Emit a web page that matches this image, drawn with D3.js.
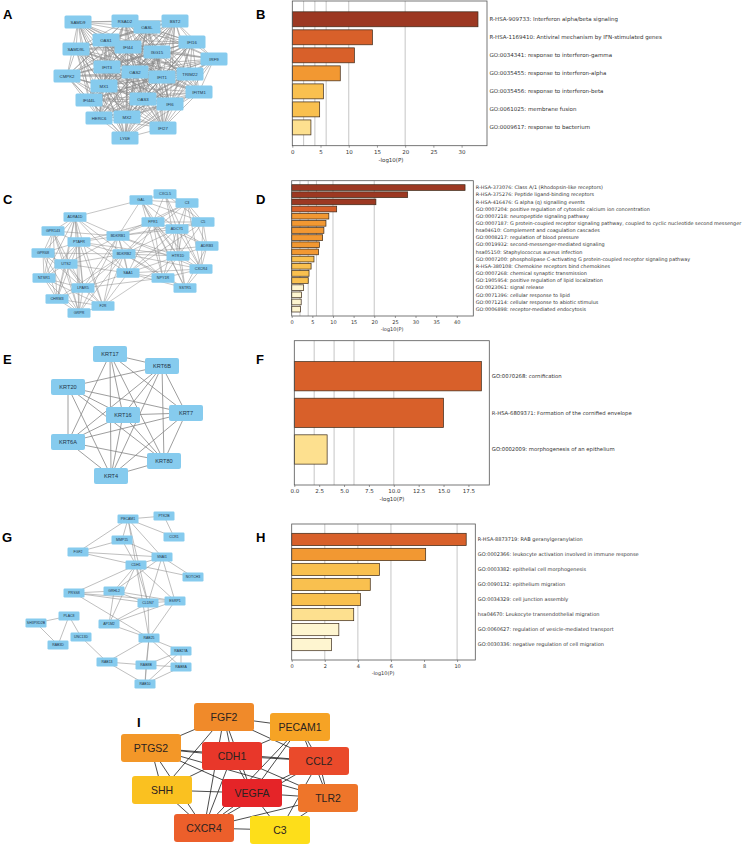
<!DOCTYPE html>
<html>
<head>
<meta charset="utf-8">
<script src="https://cdn.jsdelivr.net/npm/d3@7"></script>
<style>
  body { margin: 0; background: #fff; }
  svg { display: block; }
</style>
</head>
<body>
<div class="chart"></div>
<script>
'use strict';

// ---- enrichment bar graphs: terms and -log10(P) ----
const termsB = [
  "R-HSA-909733: Interferon alpha/beta signaling",
  "R-HSA-1169410: Antiviral mechanism by IFN-stimulated genes",
  "GO:0034341: response to interferon-gamma",
  "GO:0035455: response to interferon-alpha",
  "GO:0035456: response to interferon-beta",
  "GO:0061025: membrane fusion",
  "GO:0009617: response to bacterium"
];
const logPB = [32.9, 14.2, 11.0, 8.5, 5.5, 4.85, 3.3];
const ticksB = [0, 5, 10, 15, 20, 25, 30];

const termsD = [
  "R-HSA-373076: Class A/1 (Rhodopsin-like receptors)",
  "R-HSA-375276: Peptide ligand-binding receptors",
  "R-HSA-416476: G alpha (q) signalling events",
  "GO:0007204: positive regulation of cytosolic calcium ion concentration",
  "GO:0007218: neuropeptide signaling pathway",
  "GO:0007187: G protein-coupled receptor signaling pathway, coupled to cyclic nucleotide second messenger",
  "hsa04610: Complement and coagulation cascades",
  "GO:0008217: regulation of blood pressure",
  "GO:0019932: second-messenger-mediated signaling",
  "hsa05150: Staphylococcus aureus infection",
  "GO:0007200: phospholipase C-activating G protein-coupled receptor signaling pathway",
  "R-HSA-380108: Chemokine receptors bind chemokines",
  "GO:0007268: chemical synaptic transmission",
  "GO:1905954: positive regulation of lipid localization",
  "GO:0023061: signal release",
  "GO:0071396: cellular response to lipid",
  "GO:0071214: cellular response to abiotic stimulus",
  "GO:0006898: receptor-mediated endocytosis"
];
const logPD = [42.0, 28.1, 20.4, 10.9, 9.0, 8.3, 7.8, 7.5, 6.7, 6.5, 5.4, 4.7, 4.2, 4.0, 2.9, 2.4, 2.3, 2.1];
const ticksD = [0, 5, 10, 15, 20, 25, 30, 35, 40];

const termsF = [
  "GO:0070268: cornification",
  "R-HSA-6809371: Formation of the cornified envelope",
  "GO:0002009: morphogenesis of an epithelium"
];
const logPF = [18.8, 15.0, 3.3];
const ticksF = [0, 2.5, 5, 7.5, 10, 12.5, 15, 17.5];

const termsH = [
  "R-HSA-8873719: RAB geranylgeranylation",
  "GO:0002366: leukocyte activation involved in immune response",
  "GO:0003382: epithelial cell morphogenesis",
  "GO:0090132: epithelium migration",
  "GO:0034329: cell junction assembly",
  "hsa04670: Leukocyte transendothelial migration",
  "GO:0060627: regulation of vesicle-mediated transport",
  "GO:0030336: negative regulation of cell migration"
];
const logPH = [10.55, 8.1, 5.3, 4.75, 4.15, 3.75, 2.85, 2.4];
const ticksH = [0, 2, 4, 6, 8, 10];

// -log10(P) cut-offs for the colour bins and the grey reference lines
const pBins = [3, 4, 6, 10, 20];
const refLines = [2, 4, 6, 10, 20];

// ---- PPI networks: node name + layout coordinates ----
const nodesA = [
  ["SAMD9", 78, 22], ["RSAD2", 125, 21], ["BST2", 175, 21], ["OASL", 147, 27],
  ["OAS1", 106, 40], ["IFI44", 128, 47], ["ISG15", 157, 52], ["IFI16", 192, 42],
  ["SAMD9L", 76, 49], ["IRF9", 214, 59], ["IFIT3", 107, 67], ["OAS2", 135, 72],
  ["IFIT1", 162, 77], ["TRIM22", 190, 74], ["CMPK2", 67, 76], ["MX1", 104, 86],
  ["IFITM1", 199, 92], ["IFI44L", 89, 100], ["OAS3", 143, 99], ["IFI6", 170, 104],
  ["HERC6", 99, 118], ["MX2", 127, 117], ["IFI27", 163, 128], ["LY6E", 125, 138]
];
// module A is almost fully connected: pairs without an edge
const missingA = ["SAMD9-IRF9", "BST2-LY6E", "CMPK2-IRF9", "SAMD9-IFI27", "LY6E-IRF9",
  "SAMD9L-IRF9", "HERC6-IRF9", "RSAD2-LY6E", "SAMD9-IFITM1", "CMPK2-IFITM1"];

const nodesC = [
  ["GAL", 141, 200], ["CXCL5", 165, 194], ["C3", 187, 203], ["ADRA1D", 75, 217],
  ["FPR1", 153, 222], ["ADCY1", 177, 229], ["C5", 203, 222], ["GPR143", 53, 231],
  ["BDKRB1", 118, 236], ["PTAFR", 79, 242], ["ADRB3", 207, 246], ["GPR68", 43, 253],
  ["BDKRB2", 124, 254], ["HTR1D", 178, 256], ["UTS2", 66, 264], ["CXCR4", 201, 269],
  ["SAA1", 128, 273], ["NTSR1", 44, 278], ["NPY1R", 163, 278], ["SSTR5", 185, 288],
  ["LPAR5", 83, 288], ["CHRM3", 57, 299], ["F2R", 103, 306], ["GRPR", 79, 313]
];
const edgesC = (
  "ADRA1D-GPR143 ADRA1D-PTAFR ADRA1D-GPR68 ADRA1D-UTS2 ADRA1D-NTSR1 ADRA1D-LPAR5 ADRA1D-CHRM3 " +
  "ADRA1D-GRPR ADRA1D-F2R ADRA1D-BDKRB1 ADRA1D-BDKRB2 ADRA1D-GAL ADRA1D-SAA1 " +
  "GPR143-PTAFR GPR143-GPR68 GPR143-UTS2 GPR143-NTSR1 GPR143-LPAR5 GPR143-CHRM3 GPR143-GRPR GPR143-BDKRB1 " +
  "PTAFR-GPR68 PTAFR-UTS2 PTAFR-NTSR1 PTAFR-LPAR5 PTAFR-CHRM3 PTAFR-GRPR PTAFR-F2R PTAFR-BDKRB1 " +
  "PTAFR-BDKRB2 PTAFR-SAA1 PTAFR-FPR1 PTAFR-HTR1D " +
  "GPR68-UTS2 GPR68-NTSR1 GPR68-LPAR5 GPR68-CHRM3 GPR68-GRPR GPR68-BDKRB2 " +
  "UTS2-NTSR1 UTS2-LPAR5 UTS2-CHRM3 UTS2-GRPR UTS2-F2R UTS2-BDKRB1 UTS2-BDKRB2 UTS2-SAA1 " +
  "NTSR1-LPAR5 NTSR1-CHRM3 NTSR1-GRPR NTSR1-F2R " +
  "LPAR5-CHRM3 LPAR5-GRPR LPAR5-F2R LPAR5-BDKRB1 LPAR5-BDKRB2 LPAR5-SAA1 LPAR5-NPY1R " +
  "CHRM3-GRPR CHRM3-F2R CHRM3-BDKRB2 GRPR-F2R GRPR-BDKRB1 GRPR-BDKRB2 " +
  "F2R-BDKRB1 F2R-BDKRB2 F2R-SAA1 F2R-HTR1D " +
  "BDKRB1-BDKRB2 BDKRB1-SAA1 BDKRB1-GAL BDKRB1-FPR1 BDKRB1-ADCY1 BDKRB1-C5 BDKRB1-HTR1D BDKRB1-CXCR4 " +
  "BDKRB1-C3 BDKRB1-NPY1R " +
  "BDKRB2-SAA1 BDKRB2-FPR1 BDKRB2-ADCY1 BDKRB2-HTR1D BDKRB2-ADRB3 BDKRB2-CXCR4 BDKRB2-NPY1R " +
  "BDKRB2-SSTR5 BDKRB2-C3 " +
  "SAA1-FPR1 SAA1-ADCY1 SAA1-HTR1D SAA1-NPY1R SAA1-SSTR5 SAA1-CXCR4 SAA1-C5 " +
  "GAL-CXCL5 GAL-C3 GAL-FPR1 GAL-ADCY1 GAL-HTR1D GAL-NPY1R GAL-SSTR5 GAL-C5 " +
  "CXCL5-C3 CXCL5-FPR1 CXCL5-ADCY1 CXCL5-C5 CXCL5-CXCR4 CXCL5-HTR1D " +
  "C3-FPR1 C3-ADCY1 C3-C5 C3-ADRB3 C3-CXCR4 C3-HTR1D " +
  "FPR1-ADCY1 FPR1-C5 FPR1-HTR1D FPR1-CXCR4 FPR1-NPY1R FPR1-SSTR5 FPR1-ADRB3 " +
  "ADCY1-C5 ADCY1-ADRB3 ADCY1-HTR1D ADCY1-CXCR4 ADCY1-NPY1R ADCY1-SSTR5 " +
  "C5-ADRB3 C5-HTR1D C5-CXCR4 ADRB3-HTR1D ADRB3-CXCR4 ADRB3-SSTR5 " +
  "HTR1D-CXCR4 HTR1D-NPY1R HTR1D-SSTR5 CXCR4-NPY1R CXCR4-SSTR5 NPY1R-SSTR5"
).split(" ");

const nodesE = [
  ["KRT17", 110, 354], ["KRT6B", 162, 366], ["KRT20", 68, 387], ["KRT7", 186, 413],
  ["KRT16", 123, 415], ["KRT6A", 68, 442], ["KRT80", 164, 461], ["KRT4", 111, 476]
];
const missingE = ["KRT17-KRT20"];

const nodesG = [
  ["PECAM1", 128, 519], ["PTK2B", 164, 516], ["CCR1", 174, 537], ["MMP15", 122, 540],
  ["FGF2", 78, 552], ["SNAI1", 162, 557], ["CDH1", 136, 565], ["NOTCH3", 193, 577],
  ["PRSS8", 74, 593], ["GRHL2", 114, 591], ["CLDN7", 148, 603], ["ESRP1", 175, 601],
  ["PLAC8", 69, 616], ["SH3PXD2B", 36, 623], ["AP1M2", 109, 624], ["UNC13D", 81, 637],
  ["RAB25", 149, 638], ["RAB3D", 58, 645], ["RAB27A", 181, 651], ["RAB13", 107, 662],
  ["RAB8B", 146, 665], ["RAB8A", 181, 667], ["RAB10", 145, 684]
];
const edgesG = (
  "PECAM1-PTK2B PECAM1-CCR1 PTK2B-CCR1 PECAM1-MMP15 PECAM1-FGF2 PECAM1-SNAI1 PECAM1-CDH1 PECAM1-CLDN7 " +
  "FGF2-MMP15 FGF2-CDH1 FGF2-SNAI1 MMP15-SNAI1 MMP15-CDH1 SNAI1-CDH1 SNAI1-NOTCH3 CDH1-NOTCH3 " +
  "SNAI1-CLDN7 SNAI1-ESRP1 SNAI1-GRHL2 CDH1-PRSS8 CDH1-GRHL2 CDH1-CLDN7 CDH1-ESRP1 CDH1-AP1M2 CDH1-RAB25 " +
  "PRSS8-GRHL2 PRSS8-CLDN7 PRSS8-ESRP1 PRSS8-RAB25 GRHL2-CLDN7 GRHL2-ESRP1 GRHL2-AP1M2 " +
  "CLDN7-ESRP1 CLDN7-AP1M2 CLDN7-RAB25 ESRP1-AP1M2 ESRP1-RAB25 AP1M2-RAB25 " +
  "PLAC8-SH3PXD2B PLAC8-UNC13D PLAC8-RAB3D SH3PXD2B-RAB3D UNC13D-RAB13 " +
  "RAB25-RAB27A RAB25-RAB13 RAB25-RAB8B RAB25-RAB8A RAB25-RAB10 RAB27A-RAB8B RAB27A-RAB8A RAB27A-RAB10 " +
  "RAB13-RAB8B RAB13-RAB10 RAB8B-RAB8A RAB8B-RAB10 RAB8A-RAB10"
).split(" ");

// hub genes with their rank (1 = highest score)
const nodesI = [
  ["FGF2", 224, 717], ["PECAM1", 300, 727], ["PTGS2", 151, 748], ["CDH1", 232, 756],
  ["CCL2", 319, 761], ["SHH", 162, 790], ["VEGFA", 252, 793], ["TLR2", 328, 798],
  ["CXCR4", 204, 828], ["C3", 280, 830]
];
const rankI = {VEGFA: 1, CDH1: 2, CCL2: 3, CXCR4: 4, TLR2: 5, FGF2: 6, PTGS2: 7, PECAM1: 8, SHH: 9, C3: 10};
const edgesI = (
  "FGF2-PECAM1 FGF2-PTGS2 FGF2-CDH1 FGF2-VEGFA FGF2-SHH FGF2-CXCR4 FGF2-CCL2 " +
  "PECAM1-CDH1 PECAM1-VEGFA PECAM1-CCL2 PECAM1-TLR2 PECAM1-CXCR4 " +
  "PTGS2-CDH1 PTGS2-CCL2 PTGS2-VEGFA PTGS2-TLR2 PTGS2-SHH PTGS2-CXCR4 " +
  "CDH1-CCL2 CDH1-VEGFA CDH1-SHH CDH1-CXCR4 CDH1-TLR2 CCL2-VEGFA CCL2-TLR2 CCL2-CXCR4 CCL2-C3 " +
  "SHH-VEGFA SHH-CXCR4 VEGFA-TLR2 VEGFA-CXCR4 VEGFA-C3 TLR2-CXCR4 TLR2-C3 CXCR4-C3"
).split(" ");

const panelLetters = [["A", 3, 19], ["B", 256, 19], ["C", 3, 204], ["D", 256, 204],
  ["E", 3, 364], ["F", 256, 364], ["G", 2, 542], ["H", 256, 542], ["I", 137, 727]];

document.addEventListener('DOMContentLoaded', () => {

  const W = 753, H = 852;
  const svg = d3.select(".chart")
    .append("svg")
    .attr("width", W)
    .attr("height", H)
    .style("font-family", "'Liberation Sans', Arial, sans-serif");

  // Metascape-style colour bins
  const binColor = d3.scaleThreshold()
    .domain(pBins)
    .range(["#fef5d0", "#fde08f", "#f9c04f", "#f29832", "#d8602a", "#9c3822"]);

  // every pair of nodes except the listed ones
  function allPairs(nodes, missing) {
    const skip = new Set(missing);
    const out = [];
    nodes.forEach((a, i) => nodes.slice(i + 1).forEach(b => {
      const k1 = a[0] + "-" + b[0], k2 = b[0] + "-" + a[0];
      if (!skip.has(k1) && !skip.has(k2)) out.push(k1);
    }));
    return out;
  }

  function barPanel(c) {
    const g = svg.append("g").style("font-family", "'DejaVu Sans', sans-serif");
    const x = d3.scaleLinear().domain([0, c.xMax]).range([c.x0, c.x1]);
    const y = d3.scaleBand().domain(c.terms).range([c.y0, c.y1])
      .paddingInner(c.pi).paddingOuter(c.po);

    // reference lines
    g.selectAll(".ref")
      .data(refLines.filter(v => v < c.xMax))
      .enter()
      .append("line")
      .attr("x1", d => x(d)).attr("x2", d => x(d))
      .attr("y1", c.y0).attr("y2", c.y1)
      .style("stroke", "#cbcbcb")
      .style("stroke-width", 1.1);

    g.selectAll(".bar")
      .data(c.terms)
      .enter()
      .append("rect")
      .attr("x", x(0))
      .attr("y", d => y(d))
      .attr("width", (d, i) => x(c.vals[i]) - x(0))
      .attr("height", y.bandwidth())
      .style("fill", (d, i) => binColor(c.vals[i]))
      .style("stroke", "#3a2818")
      .style("stroke-width", 0.7);

    // frame
    g.append("rect")
      .attr("x", c.x0).attr("y", c.y0)
      .attr("width", c.x1 - c.x0).attr("height", c.y1 - c.y0)
      .style("fill", "none")
      .style("stroke", "#555")
      .style("stroke-width", 0.8);

    const axis = d3.axisBottom(x).tickValues(c.ticks).tickSize(2).tickPadding(2.5)
      .tickFormat(c.fmt);
    const ax = g.append("g")
      .attr("transform", "translate(0," + c.y1 + ")")
      .call(axis);
    ax.select(".domain").remove();
    ax.selectAll("line").style("stroke", "#555").style("stroke-width", 0.6);
    ax.selectAll("text")
      .style("font-size", c.tickFont + "px")
      .style("font-family", "'DejaVu Sans', sans-serif")
      .style("fill", "#333");

    g.selectAll(".term")
      .data(c.terms)
      .enter()
      .append("text")
      .attr("x", c.x1 + 2.5)
      .attr("y", d => y(d) + y.bandwidth() / 2)
      .attr("dy", "0.35em")
      .style("font-size", c.labelFont + "px")
      .style("fill", "#333")
      .text(d => d);

    g.append("text")
      .attr("x", c.xLabelX)
      .attr("y", c.xLabelY)
      .attr("text-anchor", "middle")
      .style("font-size", c.tickFont + "px")
      .style("fill", "#333")
      .text("-log10(P)");
  }

  function network(c) {
    const g = svg.append("g");
    const x = d3.scaleLinear().domain(d3.extent(c.nodes, d => d[1])).range(d3.extent(c.nodes, d => d[1]));
    const y = d3.scaleLinear().domain(d3.extent(c.nodes, d => d[2])).range(d3.extent(c.nodes, d => d[2]));
    const pos = new Map(c.nodes.map(d => [d[0], [x(d[1]), y(d[2])]]));
    const links = c.edges.map(e => e.split("-")).filter(e => pos.has(e[0]) && pos.has(e[1]));

    g.selectAll("line")
      .data(links)
      .enter()
      .append("line")
      .attr("x1", d => pos.get(d[0])[0])
      .attr("y1", d => pos.get(d[0])[1])
      .attr("x2", d => pos.get(d[1])[0])
      .attr("y2", d => pos.get(d[1])[1])
      .style("stroke", c.edgeColor)
      .style("stroke-width", c.edgeWidth);

    const node = g.selectAll(".node")
      .data(c.nodes)
      .enter()
      .append("g")
      .attr("transform", d => `translate(${x(d[1])},${y(d[2])})`);
    node.append("rect")
      .attr("x", -c.w / 2).attr("y", -c.h / 2)
      .attr("width", c.w).attr("height", c.h)
      .attr("rx", c.rx)
      .style("fill", c.fill);
    node.append("text")
      .attr("text-anchor", "middle")
      .attr("dy", "0.36em")
      .style("font-size", c.font + "px")
      .style("fill", c.textColor)
      .text(d => d[0]);
  }

  // bar graphs
  barPanel({terms: termsB, vals: logPB, ticks: ticksB, fmt: d3.format("d"), xMax: 34.5,
    x0: 292.3, x1: 487, y0: 1, y1: 145.7, pi: 0.17, po: 0.6,
    labelFont: 5.5, tickFont: 5.5, xLabelX: 391, xLabelY: 162});
  barPanel({terms: termsD, vals: logPD, ticks: ticksD, fmt: d3.format("d"), xMax: 44,
    x0: 291.7, x1: 473.3, y0: 180.7, y1: 316, pi: 0.2, po: 0.56,
    labelFont: 4.9, tickFont: 5, xLabelX: 392, xLabelY: 330.5});
  barPanel({terms: termsF, vals: logPF, ticks: ticksF, fmt: d3.format(".1f"), xMax: 19.6,
    x0: 294.3, x1: 489.3, y0: 340.7, y1: 485, pi: 0.2, po: 0.57,
    labelFont: 5.3, tickFont: 5.5, xLabelX: 392, xLabelY: 500.5});
  barPanel({terms: termsH, vals: logPH, ticks: ticksH, fmt: d3.format("d"), xMax: 11.1,
    x0: 291.7, x1: 475.3, y0: 524, y1: 660, pi: 0.18, po: 0.62,
    labelFont: 5.0, tickFont: 5, xLabelX: 383, xLabelY: 675});

  // networks
  const blue = "#86cbee";
  network({nodes: nodesA, edges: allPairs(nodesA, missingA), w: 27, h: 13, rx: 1.5, font: 4.3,
    fill: blue, textColor: "#233447", edgeColor: "#8a8a8a", edgeWidth: 0.55});
  network({nodes: nodesC, edges: edgesC, w: 23, h: 9.5, rx: 1.2, font: 3.7,
    fill: blue, textColor: "#233447", edgeColor: "#8a8a8a", edgeWidth: 0.5});
  network({nodes: nodesE, edges: allPairs(nodesE, missingE), w: 34, h: 16, rx: 2, font: 5.6,
    fill: blue, textColor: "#233447", edgeColor: "#858585", edgeWidth: 0.8});
  network({nodes: nodesG, edges: edgesG, w: 21, h: 9, rx: 1.2, font: 3.5,
    fill: blue, textColor: "#233447", edgeColor: "#8a8a8a", edgeWidth: 0.55});

  // hub genes coloured by rank
  const rankColor = d3.scaleLinear()
    .domain([1, 3, 6, 8, 10])
    .range(["#e52428", "#ea4a2b", "#f08a2a", "#f6a325", "#fdde1a"]);
  network({nodes: nodesI, edges: edgesI, w: 60, h: 28, rx: 3, font: 10.5,
    fill: d => rankColor(rankI[d[0]]), textColor: "#2a2220", edgeColor: "#1e1e1e", edgeWidth: 0.8});

  // panel letters
  svg.selectAll(".letter")
    .data(panelLetters)
    .enter()
    .append("text")
    .attr("x", d => d[1])
    .attr("y", d => d[2])
    .style("font-size", "13px")
    .style("font-weight", "bold")
    .style("fill", "#000")
    .text(d => d[0]);
});
</script>
</body>
</html>
